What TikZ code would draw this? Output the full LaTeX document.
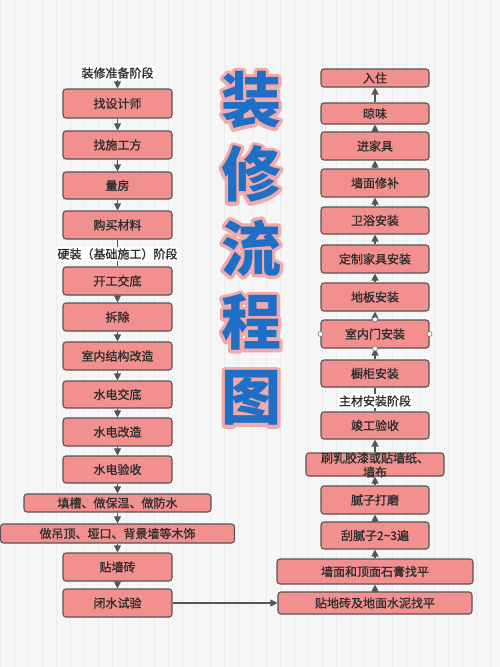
\documentclass[tikz,border=0pt]{standalone}
\usepackage{fontspec}
\setmainfont{Noto Sans CJK SC}
\newfontfamily\boxfont[FakeBold=1.2]{Noto Sans CJK SC}
\newfontfamily\ttlout[BoldFeatures={FakeBold=11}]{Noto Sans CJK SC}
\usetikzlibrary{arrows.meta}
\definecolor{boxfill}{HTML}{F29090}
\definecolor{boxline}{HTML}{555555}
\definecolor{txt}{HTML}{2E2E2E}
\definecolor{ttlblue}{HTML}{1F6FC6}
\definecolor{ttlpink}{HTML}{F2A9A9}
\definecolor{bg}{HTML}{F6F6F6}
\definecolor{gridc}{HTML}{EBEBEB}
\tikzset{
  stepbox/.style={draw=boxline, line width=1.1pt, fill=boxfill, rounded corners=3pt,
    inner sep=0pt, text=txt, font=\boxfont\fontsize{12}{14}\selectfont},
  phase/.style={fill=white, inner sep=1.5pt, text=txt, font=\boxfont\fontsize{12}{14}\selectfont},
  conn/.style={draw=boxline, line width=1.1pt},
  arr/.style={conn, -{Triangle[width=7pt,length=7pt]}},
  handle/.style={circle, draw=boxline!80, fill=white, line width=0.6pt, minimum size=5pt, inner sep=0pt},
  ttlback/.style={font=\ttlout\fontsize{60}{60}\selectfont\bfseries, inner sep=0pt, text=ttlpink},
  ttl/.style={font=\fontsize{60}{60}\selectfont\bfseries, inner sep=0pt, text=ttlblue}
}
\begin{document}
\begin{tikzpicture}[x=1pt,y=-1pt]
\useasboundingbox (0,0) rectangle (500,667);
\fill[bg] (0,0) rectangle (500,667);
\draw[gridc, line width=0.3pt, step=14] (0,0) grid (500,667);

% title
\begin{scope}[line join=round, line cap=round]
\foreach \c/\y [count=\i] in {装/100,修/174,流/248,程/322,图/398}
  \node[ttlback] (tb\i) at (251,\y) {\c};
\end{scope}
\foreach \c/\y [count=\i] in {装/100,修/174,流/248,程/322,图/398}
  \node[ttl] (t\i) at (251,\y) {\c};

% left column
\node[phase] (p1) at (117.5,73) {装修准备阶段};
\node[stepbox, minimum width=109, minimum height=29] (L1) at (117.5,103.5) {找设计师};
\node[stepbox, minimum width=109, minimum height=28] (L2) at (117.5,145) {找施工方};
\node[stepbox, minimum width=109, minimum height=27] (L3) at (117.5,185.5) {量房};
\node[stepbox, minimum width=109, minimum height=28] (L4) at (117.5,225) {购买材料};
\node[stepbox, minimum width=109, minimum height=28] (L5) at (117.5,281) {开工交底};
\node[stepbox, minimum width=109, minimum height=28] (L6) at (117.5,317) {拆除};
\node[stepbox, minimum width=109, minimum height=28] (L7) at (117.5,356) {室内结构改造};
\node[stepbox, minimum width=109, minimum height=27] (L8) at (117.5,394.5) {水电交底};
\node[stepbox, minimum width=109, minimum height=28] (L9) at (117.5,432) {水电改造};
\node[stepbox, minimum width=109, minimum height=27] (L10) at (117.5,469.5) {水电验收};
\node[stepbox, minimum width=187, minimum height=18] (L11) at (117.5,503) {填槽、做保温、做防水};
\node[stepbox, minimum width=234, minimum height=19] (L12) at (117.5,533.5) {做吊顶、垭口、背景墙等木饰};
\node[stepbox, minimum width=109, minimum height=28] (L13) at (117.5,567) {贴墙砖};
\node[stepbox, minimum width=109, minimum height=28] (L14) at (117.5,603) {闭水试验};

% right column
\node[stepbox, minimum width=108, minimum height=18] (R1) at (375,78) {入住};
\node[stepbox, minimum width=108, minimum height=21] (R2) at (375,113.5) {晾味};
\node[stepbox, minimum width=108, minimum height=28] (R3) at (375,146) {进家具};
\node[stepbox, minimum width=108, minimum height=28] (R4) at (375,183) {墙面修补};
\node[stepbox, minimum width=108, minimum height=27] (R5) at (375,220.5) {卫浴安装};
\node[stepbox, minimum width=108, minimum height=28] (R6) at (375,259) {定制家具安装};
\node[stepbox, minimum width=108, minimum height=28] (R7) at (375,297) {地板安装};
\node[stepbox, minimum width=108, minimum height=28] (R8) at (375,334) {室内门安装};
\node[stepbox, minimum width=108, minimum height=27] (R9) at (375,373.5) {橱柜安装};
\node[stepbox, minimum width=108, minimum height=27] (R10) at (375,425.5) {竣工验收};
\node[stepbox, minimum width=138, minimum height=23] (R11) at (375,464.5) {};
\node[stepbox, minimum width=108, minimum height=28] (R12) at (375,500) {腻子打磨};
\node[stepbox, minimum width=108, minimum height=27] (R13) at (375,535.5) {刮腻子2{\char"007E}3遍};
\node[stepbox, minimum width=196, minimum height=25] (R14) at (375,571.5) {墙面和顶面石膏找平};
\node[stepbox, minimum width=194, minimum height=22] (R15) at (375,603) {贴地砖及地面水泥找平};

% left connectors
\draw[arr] (p1.south) -- (L1.north);
\foreach \a/\b in {L1/L2,L2/L3,L3/L4,L5/L6,L6/L7,L7/L8,L8/L9,L9/L10,L10/L11,L11/L12,L12/L13,L13/L14}
  \draw[arr] (\a.south) -- (\b.north);
\draw[conn] (L4.south) -- (L5.north);
\node[phase] (p2) at (117.5,254) {硬装（基础施工）阶段};

% right connectors
\foreach \a/\b in {R2/R1,R3/R2,R4/R3,R5/R4,R6/R5,R7/R6,R8/R7,R9/R8,R11/R10,R12/R11,R13/R12,R14/R13,R15/R14}
  \draw[arr] (\a.north) -- (\b.south);
\draw[conn] (R10.north) -- (R9.south);
\node[phase] (p3) at (375,401) {主材安装阶段};

% cross connector
\draw[arr] (L14.east) -- (R15.west);

% text of R11 (overflowing box)
\node[text=txt, font=\boxfont\fontsize{12}{14}\selectfont, align=center, inner sep=0pt] (R11t) at (375,465) {刷乳胶漆或贴墙纸、\\墙布};

% selection handles
\foreach \s in {north,south,east,west}
  \node[handle] (h\s) at (R8.\s) {};
\end{tikzpicture}
\end{document}
